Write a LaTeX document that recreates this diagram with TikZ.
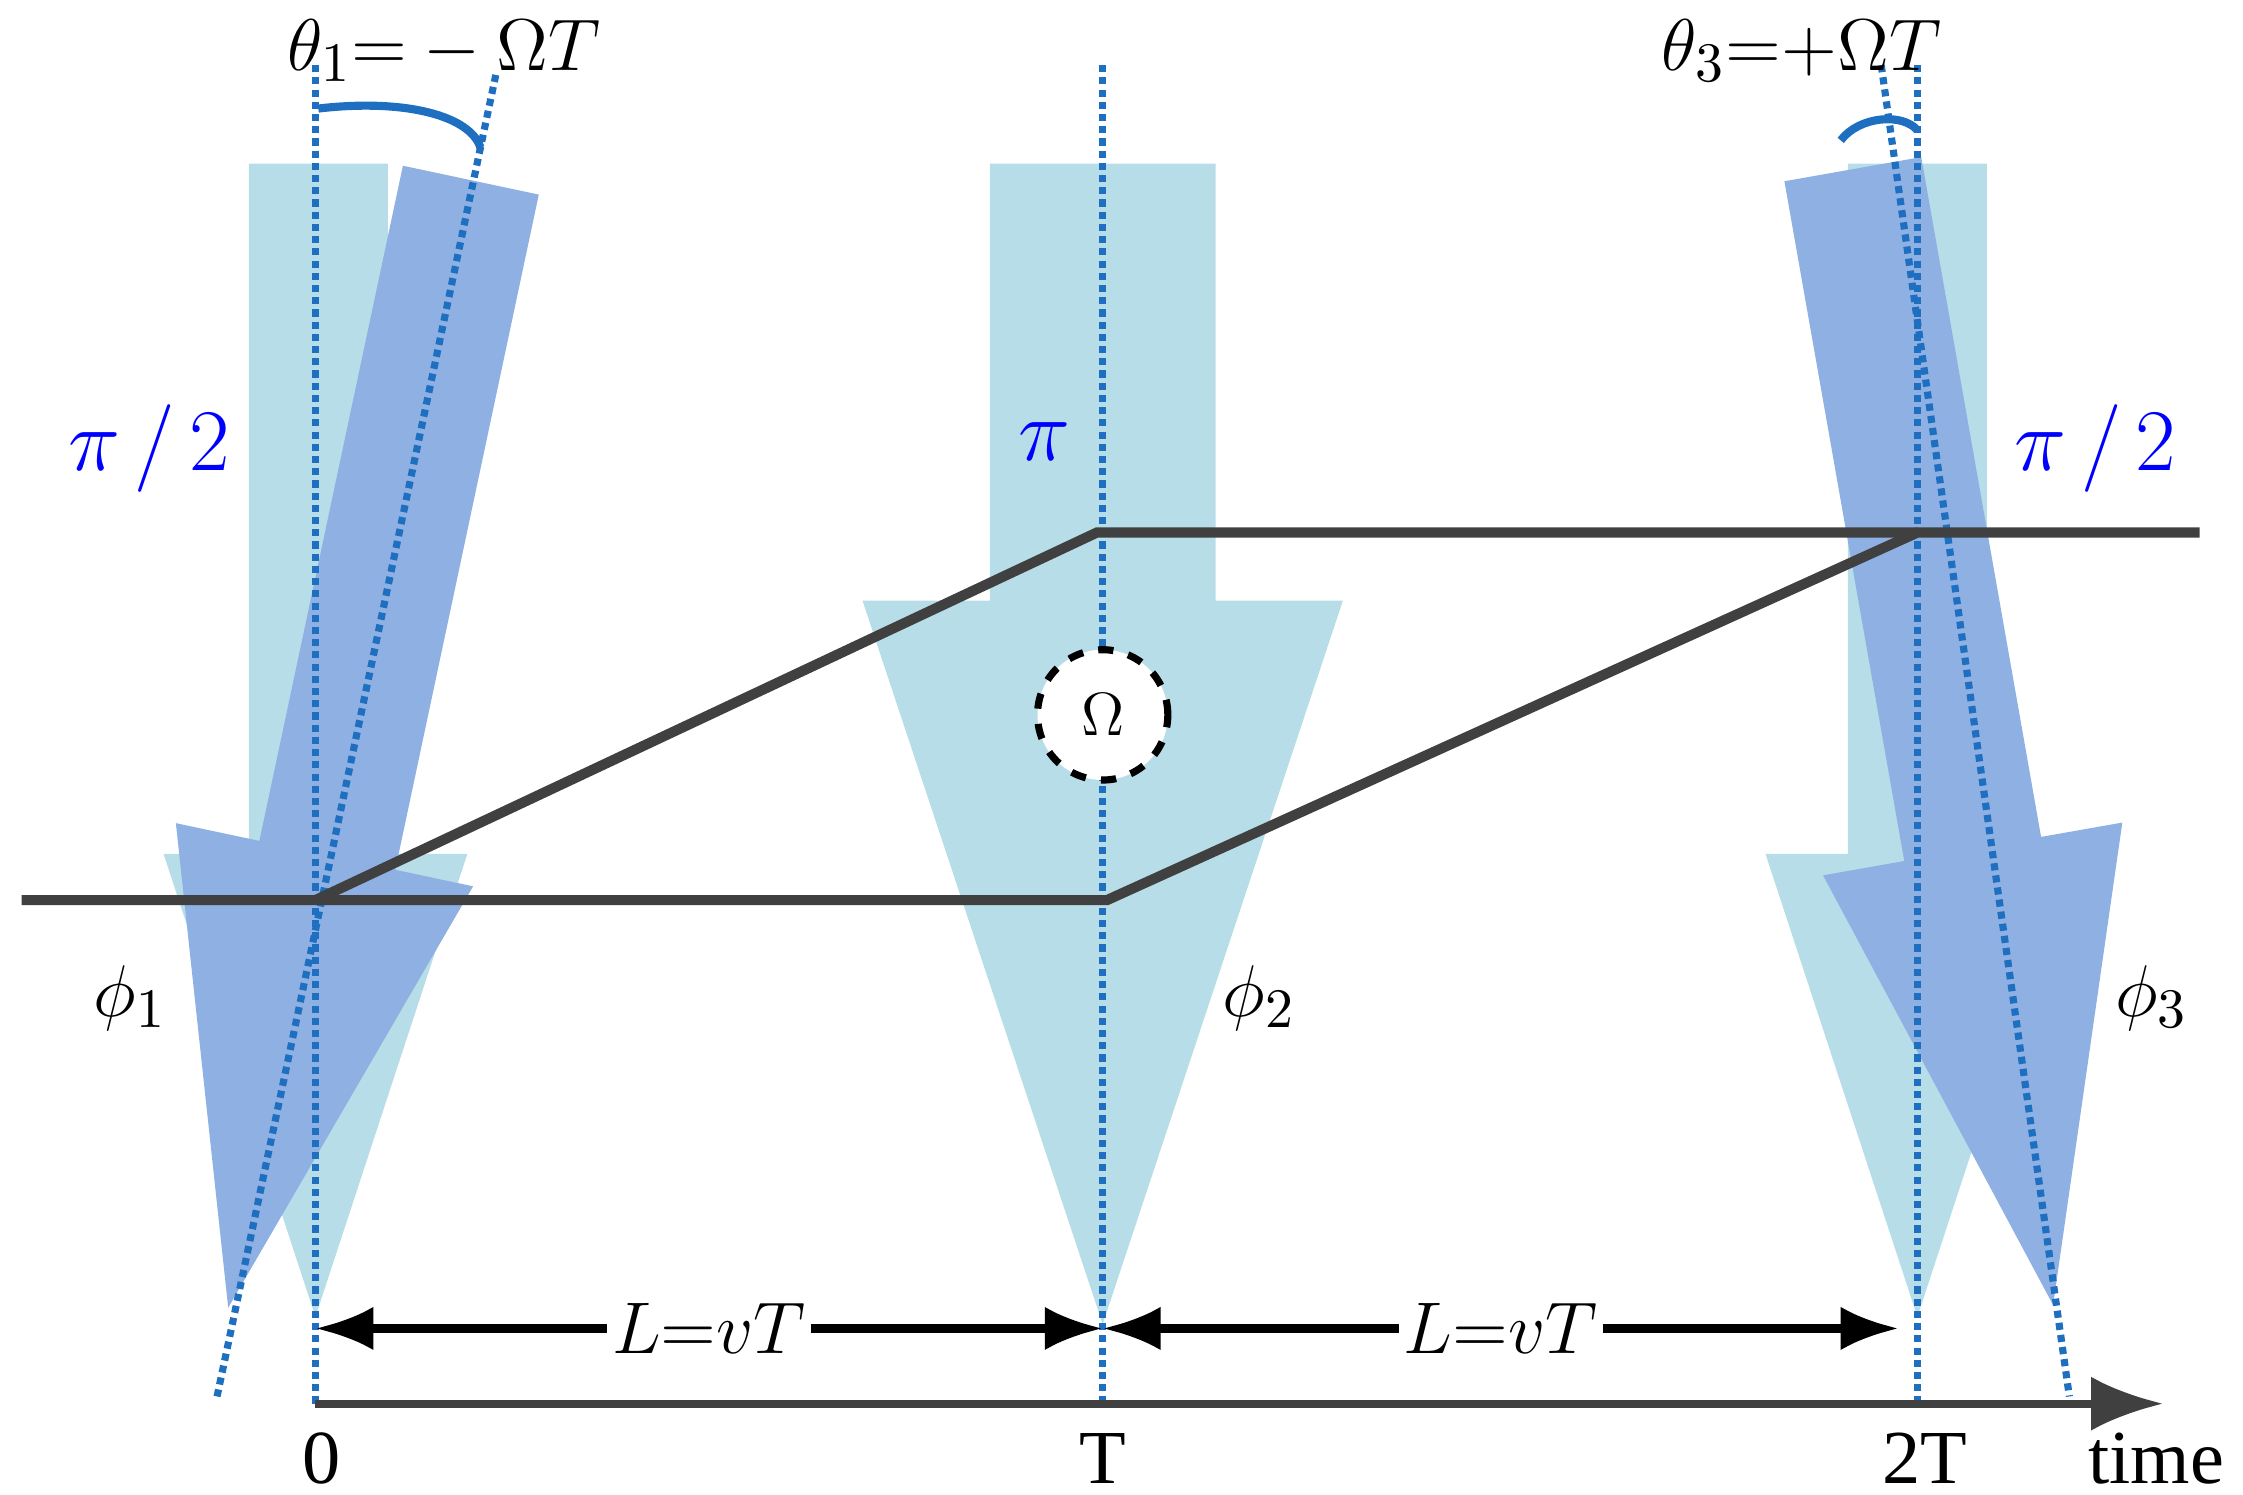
\documentclass[tikz,border=0pt]{standalone}
\usepackage{fontspec}
\setmainfont{Liberation Serif}
\usetikzlibrary{arrows.meta}
\definecolor{lightbeam}{HTML}{B7DDE8}
\definecolor{darkbeam}{HTML}{8EB0E3}
\definecolor{pathgray}{HTML}{404040}
\definecolor{guideblue}{HTML}{1F6FC0}
\tikzset{
  light beam/.style={fill=lightbeam, draw=none},
  dark beam/.style={fill=darkbeam, draw=none},
  guide/.style={guideblue, densely dotted, line width=1.4pt},
  arm/.style={pathgray, line width=2pt},
  pulse/.style={text=blue, font=\fontsize{19}{21}\selectfont},
  lbl/.style={font=\fontsize{15}{17}\selectfont},
  span/.style={{Latex[length=4mm]}-{Latex[length=4mm]}, line width=1.6pt, black}
}
\begin{document}
\begin{tikzpicture}[x=0.01cm, y=-0.01cm]
\useasboundingbox (0,0) rectangle (1550,1033);
% straight beams
\path[light beam] (172,113) -- (268,113) -- (268,590) -- (323,590) -- (218,910) -- (113,590) -- (172,590) -- cycle;
\path[light beam] (684,113) -- (840,113) -- (840,415) -- (928,415) -- (762,915) -- (596,415) -- (684,415) -- cycle;
\path[light beam] (1277,113) -- (1373,113) -- (1373,590) -- (1430,590) -- (1325,910) -- (1220,590) -- (1277,590) -- cycle;
% tilted beams
\path[dark beam, rotate around={-12:(218,620)}] (172,113) -- (268,113) -- (268,590) -- (323,590) -- (218,910) -- (113,590) -- (172,590) -- cycle;
\path[dark beam, rotate around={10:(1325,370)}] (1277,113) -- (1373,113) -- (1373,590) -- (1430,590) -- (1325,910) -- (1220,590) -- (1277,590) -- cycle;
% guide lines
\draw[guide] (218,45) -- (218,970);
\draw[guide] (762,45) -- (762,970);
\draw[guide] (1325,45) -- (1325,970);
\draw[guide] (150,965) -- (343,50);
\draw[guide] (1300,45) -- (1430,965);
\draw[guideblue, line width=1.6pt] (220,75) .. controls (280,68) and (325,80) .. (332,102);
\draw[guideblue, line width=1.6pt] (1272,97) .. controls (1285,80) and (1315,78) .. (1325,90);
% interferometer arms
\coordinate (a0) at (15,622);
\coordinate (s1) at (218,622);
\coordinate (m1) at (758,368);
\coordinate (m2) at (765,622);
\coordinate (s3) at (1325,368);
\coordinate (a3) at (1520,368);
\draw[arm] (a0) -- (m2) -- (s3) -- (a3);
\draw[arm] (s1) -- (m1) -- (s3);
\node[circle, draw, dashed, line width=1.4pt, fill=white, minimum size=0.9cm, font=\fontsize{12}{14}\selectfont] (rot) at (762,494) {$\Omega$};
% spans and axis
\coordinate (t0) at (218,918);
\coordinate (t1) at (762,918);
\coordinate (t2) at (1312,918);
\draw[span] (t0) -- node[fill=white, inner sep=1pt, lbl] {$L{=}vT$} (t1);
\draw[span] (t1) -- node[fill=white, inner sep=1pt, lbl] {$L{=}vT$} (t2);
\coordinate (ax0) at (218,970);
\coordinate (ax1) at (1495,970);
\draw[pathgray, line width=1.6pt, -{Latex[length=5mm]}] (ax0) -- (ax1);
% labels
\node[lbl] (l0) at (222,1008) {0};
\node[lbl] (lT) at (762,1008) {T};
\node[lbl] (l2T) at (1330,1008) {2T};
\node[lbl] (ltime) at (1490,1008) {time};
\node[pulse] (p1) at (103,310) {$\pi\,/\,2$};
\node[pulse] (p2) at (722,305) {$\pi$};
\node[pulse] (p3) at (1448,310) {$\pi\,/\,2$};
\node[lbl] (f1) at (90,690) {$\phi_1$};
\node[lbl] (f2) at (870,690) {$\phi_2$};
\node[lbl] (f3) at (1487,690) {$\phi_3$};
\node[lbl] (th1) at (307,35) {$\theta_1{=}-\Omega T$};
\node[lbl] (th3) at (1245,35) {$\theta_3{=}{+}\Omega T$};
\end{tikzpicture}
\end{document}
